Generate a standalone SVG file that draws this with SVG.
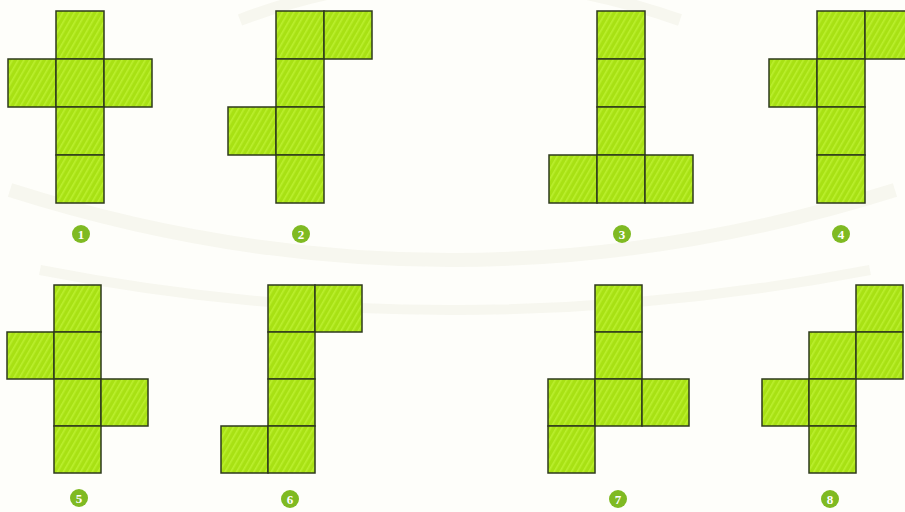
<svg xmlns="http://www.w3.org/2000/svg" width="905" height="512" viewBox="0 0 905 512">
  <defs>
    <pattern id="hatch" width="5" height="5" patternUnits="userSpaceOnUse" patternTransform="rotate(30)">
      <rect width="5" height="5" fill="#a8e114"/>
      <rect width="1.6" height="5" fill="#bbef2e"/>
    </pattern>
  </defs>
  <style>
    .t rect { fill: url(#hatch); stroke: #2e3a1c; stroke-width: 1.5; width: 48px; height: 48px; }
    .b rect { fill: url(#hatch); stroke: #2e3a1c; stroke-width: 1.5; width: 47px; height: 47px; }
    .badge circle { fill: #7fba22; }
    .badge text { fill: #ffffff; font-family: "Liberation Serif", "DejaVu Serif", serif; font-weight: bold; font-size: 13px; text-anchor: middle; }
    .wm { fill: none; stroke: #f7f7ef; }
  </style>
  <rect width="905" height="512" fill="#fefefa"/>
  <g id="watermark">
    <path class="wm" d="M 10 190 Q 450 330 895 190" stroke-width="14"/>
    <path class="wm" d="M 40 270 Q 450 350 870 270" stroke-width="10"/>
    <path class="wm" d="M 240 20 Q 450 -60 680 20" stroke-width="12"/>
  </g>

  <g id="net1" class="t">
    <rect x="56" y="11"/><rect x="8" y="59"/><rect x="56" y="59"/><rect x="104" y="59"/>
    <rect x="56" y="107"/><rect x="56" y="155"/>
  </g>
  <g id="net2" class="t">
    <rect x="276" y="11"/><rect x="324" y="11"/><rect x="276" y="59"/><rect x="228" y="107"/>
    <rect x="276" y="107"/><rect x="276" y="155"/>
  </g>
  <g id="net3" class="t">
    <rect x="597" y="11"/><rect x="597" y="59"/><rect x="597" y="107"/>
    <rect x="549" y="155"/><rect x="597" y="155"/><rect x="645" y="155"/>
  </g>
  <g id="net4" class="t">
    <rect x="817" y="11"/><rect x="865" y="11"/><rect x="769" y="59"/><rect x="817" y="59"/>
    <rect x="817" y="107"/><rect x="817" y="155"/>
  </g>
  <g id="net5" class="b">
    <rect x="54" y="285"/><rect x="7" y="332"/><rect x="54" y="332"/>
    <rect x="54" y="379"/><rect x="101" y="379"/><rect x="54" y="426"/>
  </g>
  <g id="net6" class="b">
    <rect x="268" y="285"/><rect x="315" y="285"/><rect x="268" y="332"/>
    <rect x="268" y="379"/><rect x="221" y="426"/><rect x="268" y="426"/>
  </g>
  <g id="net7" class="b">
    <rect x="595" y="285"/><rect x="595" y="332"/><rect x="548" y="379"/>
    <rect x="595" y="379"/><rect x="642" y="379"/><rect x="548" y="426"/>
  </g>
  <g id="net8" class="b">
    <rect x="856" y="285"/><rect x="809" y="332"/><rect x="856" y="332"/>
    <rect x="762" y="379"/><rect x="809" y="379"/><rect x="809" y="426"/>
  </g>

  <g id="label1" class="badge"><circle cx="81" cy="234" r="9"/><text x="81" y="238.5">1</text></g>
  <g id="label2" class="badge"><circle cx="301" cy="234" r="9"/><text x="301" y="238.5">2</text></g>
  <g id="label3" class="badge"><circle cx="622" cy="234" r="9"/><text x="622" y="238.5">3</text></g>
  <g id="label4" class="badge"><circle cx="841" cy="234" r="9"/><text x="841" y="238.5">4</text></g>
  <g id="label5" class="badge"><circle cx="79" cy="498" r="9"/><text x="79" y="502.5">5</text></g>
  <g id="label6" class="badge"><circle cx="290" cy="499" r="9"/><text x="290" y="503.5">6</text></g>
  <g id="label7" class="badge"><circle cx="618" cy="499" r="9"/><text x="618" y="503.5">7</text></g>
  <g id="label8" class="badge"><circle cx="830" cy="499" r="9"/><text x="830" y="503.5">8</text></g>
</svg>
